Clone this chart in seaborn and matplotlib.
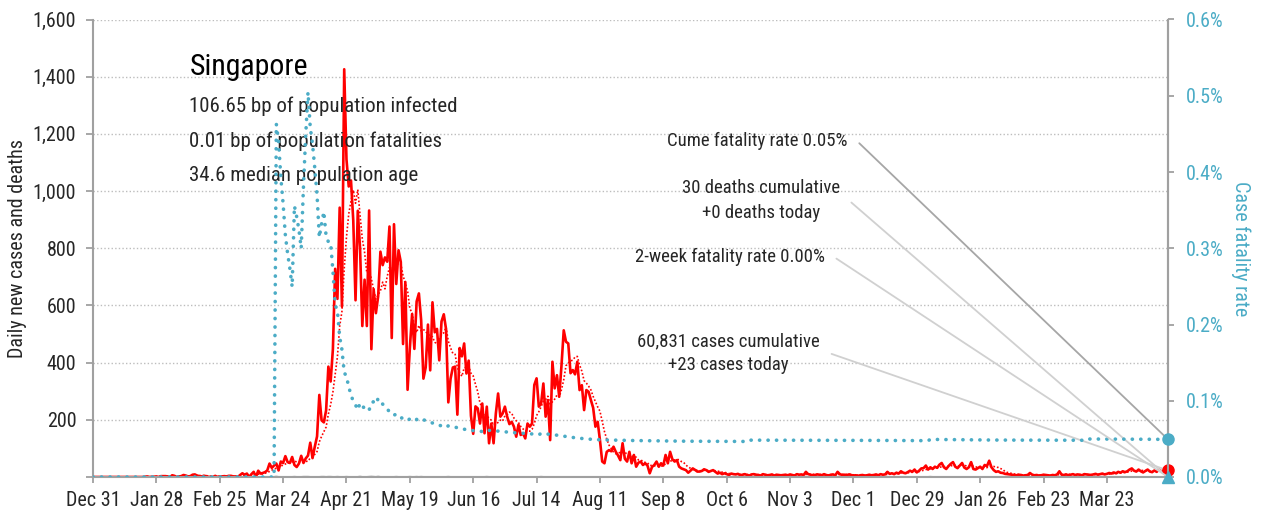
import numpy as np
import pandas as pd
import matplotlib
matplotlib.use("Agg")
import matplotlib.pyplot as plt
from matplotlib.ticker import FuncFormatter, MultipleLocator
import seaborn as sns

# ---------------------------------------------------------------- data
start_date = "2019-12-31"
country = "Singapore"
profile_lines = [
    "106.65 bp of population infected",
    "0.01 bp of population fatalities",
    "34.6 median population age",
]

# daily new confirmed cases, Dec 31 2019 .. Mar 31 2020
cases_q1_2020 = [0] * 23 + [
    1, 2, 0, 1, 1, 2, 0, 3, 3,
    3, 2, 0, 6, 4, 0, 2, 3, 7, 5, 2, 3, 8, 9, 5, 3, 2, 4, 3, 0, 1, 0, 4, 0, 2, 2, 3, 2, 4,
    4, 2, 2, 0, 7, 13, 8, 12, 0, 10, 18, 0, 22, 12, 14, 17, 23, 47, 32, 40, 47, 23, 54, 49,
    73, 52, 49, 70, 42, 35, 47,
]
cases_apr_2020 = [74, 49, 65, 75, 120, 66, 106, 142, 287, 198, 191, 233, 386, 334, 447,
                  728, 623, 942, 596, 1426, 1111, 1016, 1037, 897, 618, 931, 799, 528, 690, 528]
cases_may_2020 = [932, 447, 657, 573, 632, 788, 741, 768, 753, 876, 486, 884, 675, 793, 752,
                  465, 682, 305, 451, 570, 448, 614, 642, 548, 344, 383, 533, 373, 611, 506, 518]
cases_jun_2020 = [408, 544, 569, 517, 261, 344, 383, 386, 218, 451, 422, 467, 362, 407, 214,
                  151, 247, 240, 187, 257, 153, 246, 118, 187, 118, 222, 292, 211, 222, 246]
cases_jul_2020 = [211, 185, 193, 176, 141, 183, 147, 153, 135, 187, 176, 187, 322, 345, 246,
                  257, 327, 211, 269, 129, 403, 310, 356, 281, 389, 513, 473, 467, 363, 374, 359]
cases_aug_2020 = [403, 304, 321, 234, 304, 298, 269, 242, 176, 193, 129, 54, 48, 88, 94,
                  90, 106, 88, 75, 59, 118, 64, 54, 88, 48, 77, 36, 50, 54, 42, 48]
cases_sep_2020 = [40, 13, 35, 42, 54, 36, 48, 40, 77, 48, 88, 62, 54, 59, 36,
                  30, 27, 24, 15, 22, 30, 25, 19, 19, 21, 27, 24, 18, 21, 24]
cases_oct_2020 = [18, 12, 15, 10, 13, 10, 7, 12, 10, 9, 11, 6, 8, 10, 7, 5,
                  9, 10, 8, 7, 5, 10, 8, 6, 7, 9, 5, 8, 7, 6, 7]
cases_nov_2020 = [8, 6, 9, 7, 5, 10, 8, 9, 7, 18, 10, 8, 6, 7, 9,
                  8, 6, 10, 7, 5, 8, 9, 6, 18, 10, 7, 8, 6, 9, 7]
cases_dec_2020 = [5, 6, 4, 6, 7, 5, 6, 8, 6, 7, 9, 6, 10, 8, 9, 18,
                  11, 13, 10, 15, 12, 20, 15, 13, 17, 22, 18, 26, 16, 22, 30]
cases_jan_2021 = [31, 40, 26, 34, 28, 36, 32, 43, 49, 34, 28, 38, 46, 52, 36, 31,
                  40, 49, 33, 28, 34, 52, 28, 26, 31, 36, 28, 42, 38, 57, 34]
cases_feb_2021 = [24, 18, 20, 15, 14, 11, 10, 9, 8, 7, 6, 8, 7, 5,
                  6, 7, 14, 8, 6, 7, 5, 6, 8, 7, 6, 5, 7, 6]
cases_mar_2021 = [9, 20, 8, 7, 9, 6, 8, 10, 7, 9, 8, 6, 10, 9, 8, 7,
                  9, 11, 8, 10, 12, 9, 11, 14, 12, 16, 13, 18, 15, 20, 17]
cases_apr_2021 = [20, 26, 30, 22, 19, 26, 20, 16, 21, 26, 19, 17, 23, 18, 26, 20, 22, 26, 23]

# reported deaths
death_dates = ["2020-03-21", "2020-03-29", "2020-04-02", "2020-04-03", "2020-04-04",
               "2020-04-10", "2020-04-11", "2020-04-13", "2020-04-14", "2020-04-17",
               "2020-04-21", "2020-04-27", "2020-05-01", "2020-05-02", "2020-05-03",
               "2020-05-05", "2020-05-13", "2020-05-19", "2020-05-22", "2020-05-24",
               "2020-06-05", "2020-06-22", "2020-07-16", "2020-10-15", "2021-01-04",
               "2021-03-14"]
death_counts = [2, 1, 1, 1, 1, 1, 1, 1, 1, 1, 1, 2, 1, 2, 1, 2, 1, 1, 1, 1, 1, 1, 1, 1, 1, 1]

# ---------------------------------------------------------------- series
daily_cases_list = (cases_q1_2020 + cases_apr_2020 + cases_may_2020 + cases_jun_2020
                    + cases_jul_2020 + cases_aug_2020 + cases_sep_2020 + cases_oct_2020
                    + cases_nov_2020 + cases_dec_2020 + cases_jan_2021 + cases_feb_2021
                    + cases_mar_2021 + cases_apr_2021)
dates = pd.date_range(start_date, periods=len(daily_cases_list), freq="D")
cases = pd.Series(daily_cases_list, index=dates, dtype=float)
deaths = pd.Series(0.0, index=dates)
for d, c in zip(death_dates, death_counts):
    deaths[pd.Timestamp(d)] += c

cum_cases = cases.cumsum()
cum_deaths = deaths.cumsum()
cfr = (cum_deaths / cum_cases).fillna(0.0) * 100.0
avg7 = cases.rolling(7, min_periods=1).mean()
two_week_rate = deaths.iloc[-14:].sum() / cases.iloc[-14:].sum() * 100.0

df = pd.DataFrame({"date": dates, "cases": cases.values, "avg7": avg7.values,
                   "deaths": deaths.values, "cfr": cfr.values})

# ---------------------------------------------------------------- style
sns.set_theme(style="white")
plt.rcParams["font.family"] = ["Roboto Condensed", "Liberation Sans Narrow",
                               "DejaVu Sans"]
plt.rcParams["font.stretch"] = "condensed"
TEXT = "#262626"
TEAL = "#4BACC6"
RED = "#FF0000"
SPINE = "#A0A0A0"
TICK_FS = 14.5

W, H = 1261, 516
fig = plt.figure(figsize=(W / 100, H / 100), dpi=100)
x0, x1, y0, y1 = 93, 1168, 477, 19.5
ax = fig.add_axes([x0 / W, 1 - y0 / H, (x1 - x0) / W, (y0 - y1) / H])
ax2 = ax.twinx()

sns.lineplot(data=df, x="date", y="deaths", ax=ax, color="#C8C8C8", lw=1.5)
sns.lineplot(data=df, x="date", y="avg7", ax=ax, color=RED, lw=1.2, linestyle=(0, (1, 1.2)))
sns.lineplot(data=df, x="date", y="cases", ax=ax, color=RED, lw=1.9)
sns.lineplot(data=df, x="date", y="cfr", ax=ax2, color=TEAL, lw=2.6,
             linestyle=(0, (0.05, 2.3)), dash_capstyle="round")

last = dates[-1]
ax.plot([last], [cases.iloc[-1]], "o", color=RED, ms=8, clip_on=False, zorder=5)
ax2.plot([last], [cfr.iloc[-1]], "o", color=TEAL, ms=8, clip_on=False, zorder=5)
ax2.plot([last], [two_week_rate], "^", color=TEAL, ms=8, clip_on=False, zorder=6)

# ---------------------------------------------------------------- axes
ax.set_xlim(dates[0], last)
ax.set_ylim(0, 1600)
ax2.set_ylim(0, 0.6)

ax.set_xticks(pd.date_range(start_date, last, freq="28D"))
ax.xaxis.set_major_formatter(FuncFormatter(
    lambda v, p: (lambda d: f"{d:%b} {d.day}")(matplotlib.dates.num2date(v))))
ax.yaxis.set_major_locator(MultipleLocator(200))
ax.yaxis.set_major_formatter(FuncFormatter(lambda v, p: "" if v == 0 else f"{v:,.0f}"))
ax2.yaxis.set_major_locator(MultipleLocator(0.1))
ax2.yaxis.set_major_formatter(FuncFormatter(lambda v, p: f"{v:.1f}%"))

ax.yaxis.grid(True, linestyle=(0, (1, 1.6)), color="#BDBDBD", lw=1)
ax.xaxis.grid(False)
ax2.grid(False)

for a in (ax, ax2):
    for s in a.spines.values():
        s.set_color(SPINE)
        s.set_linewidth(1.5)
    a.spines["top"].set_visible(False)
ax2.spines["left"].set_visible(False)
ax2.spines["bottom"].set_visible(False)

ax.tick_params(axis="x", bottom=True, length=4, width=1.3, color=SPINE,
               labelsize=TICK_FS, labelcolor=TEXT, pad=6)
ax.tick_params(axis="y", left=True, length=5, width=1.3, color=SPINE,
               labelsize=TICK_FS, labelcolor=TEXT, pad=7)
ax2.tick_params(axis="y", right=True, length=4, width=1.3, color=SPINE,
                labelsize=TICK_FS, labelcolor=TEAL, pad=9)

ax.set_xlabel("")
ax.set_ylabel("Daily new cases and deaths", fontsize=14.5, color=TEXT)
ax.yaxis.set_label_coords(-0.0610, 0.5)
ax2.set_ylabel("Case fatality rate", fontsize=14.5, color=TEAL, rotation=270, va="bottom")
ax2.yaxis.set_label_coords(1.0590, 0.5)

# ---------------------------------------------------------------- text
ax.text(0.0902, 0.8787, country, transform=ax.transAxes, fontsize=21.5,
        color="black", va="baseline", ha="left")
for yy, line in zip([0.7978, 0.7213, 0.6470], profile_lines):
    ax.text(0.0893, yy, line, transform=ax.transAxes, fontsize=15,
            color=TEXT, va="baseline", ha="left")

def leader(color):
    return dict(arrowstyle="-", color=color, lw=1.3, shrinkA=6, shrinkB=0,
                relpos=(1, 0.5),
                connectionstyle="arc,angleA=0,armA=9,angleB=0,armB=0,rad=0")

ax2.annotate(f"Cume fatality rate {cfr.iloc[-1]:.2f}%", xy=(last, cfr.iloc[-1]),
             xytext=(0.7023, 0.7344), textcoords="axes fraction",
             ha="right", va="center", fontsize=13.5, color=TEXT,
             arrowprops=leader("#A6A6A6"), annotation_clip=False)
ax.annotate(f"{int(cum_deaths.iloc[-1]):,} deaths cumulative\n"
            f"+{int(deaths.iloc[-1])} deaths today", xy=(last, deaths.iloc[-1]),
            xytext=(0.6949, 0.6044), textcoords="axes fraction",
            ha="right", va="center", multialignment="center", fontsize=13.5,
            color=TEXT, linespacing=1.45, arrowprops=leader("#D0D0D0"),
            annotation_clip=False)
ax2.annotate(f"2-week fatality rate {two_week_rate:.2f}%", xy=(last, two_week_rate),
             xytext=(0.6809, 0.4809), textcoords="axes fraction",
             ha="right", va="center", fontsize=13.5, color=TEXT,
             arrowprops=leader("#D0D0D0"), annotation_clip=False)
ax.annotate(f"{int(cum_cases.iloc[-1]):,} cases cumulative\n"
            f"+{int(cases.iloc[-1])} cases today", xy=(last, cases.iloc[-1]),
            xytext=(0.6763, 0.2710), textcoords="axes fraction",
            ha="right", va="center", multialignment="center", fontsize=13.5,
            color=TEXT, linespacing=1.45, arrowprops=leader("#D0D0D0"),
            annotation_clip=False)

fig.savefig("out.png", dpi=100)
